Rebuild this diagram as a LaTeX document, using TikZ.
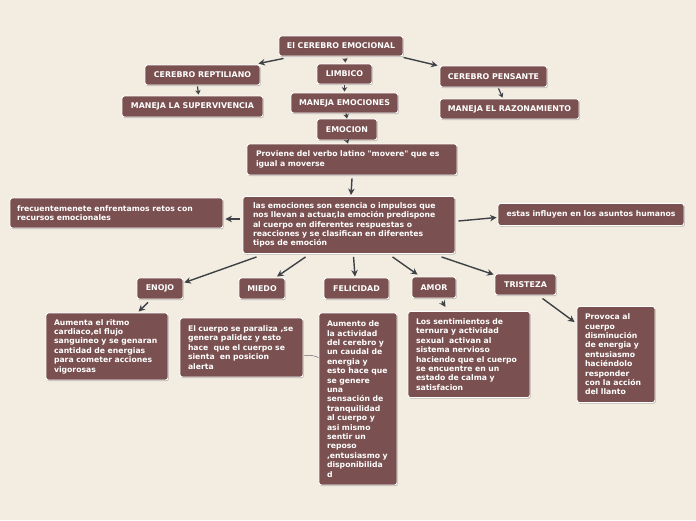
\documentclass[tikz,border=0pt]{standalone}
\usepackage{fontspec}
\setmainfont{DejaVu Sans}[Ligatures=TeXOff]
\usetikzlibrary{arrows.meta,shadows,calc}
\definecolor{bg}{RGB}{242,236,225}
\definecolor{boxc}{RGB}{122,80,80}
\definecolor{arrc}{RGB}{62,66,70}
\newcommand\lblfont{\fontsize{7.9}{9.4}\selectfont\bfseries}
\newcommand\txtfont{\fontsize{7.7}{9.4}\selectfont\bfseries}
\tikzset{
 box/.style={draw=white, line width=0.9pt, fill=boxc, rounded corners=2.5pt, text=white, inner sep=0pt,
   drop shadow={shadow xshift=0.8pt, shadow yshift=-1.2pt, fill=black, opacity=0.22}},
 lbl/.style 2 args={box, font=\lblfont, minimum width=#1, minimum height=#2, align=center},
 txt/.style n args={3}{box, font=\txtfont, minimum width=#1, minimum height=#2, text width=#3, align=left},
 conn/.style={draw=arrc, line width=1.4pt, -{Stealth[length=6.5pt,width=6.5pt]}},
 conns/.style={draw=arrc, line width=1.2pt, -{Stealth[length=4.5pt,width=5.5pt]}},
 thinln/.style={draw=arrc!80, line width=0.5pt},
}
\begin{document}
\begin{tikzpicture}[x=1pt,y=-1pt]
\fill[bg] (0,0) rectangle (696,520);
\useasboundingbox (0,0) rectangle (696,520);

\node[lbl={124pt}{20pt}] (emo) at (341,46) {El CEREBRO EMOCIONAL};
\node[lbl={115pt}{20pt}] (rep) at (202.5,75) {CEREBRO REPTILIANO};
\node[lbl={55pt}{20pt}] (lim) at (344.5,74) {LIMBICO};
\node[lbl={107pt}{21pt}] (pen) at (493.5,76.5) {CEREBRO PENSANTE};
\node[lbl={141pt}{21pt}] (sup) at (192.5,106.5) {MANEJA LA SUPERVIVENCIA};
\node[lbl={107pt}{20pt}] (man) at (344.5,103) {MANEJA EMOCIONES};
\node[lbl={139pt}{20pt}] (raz) at (509.5,109) {MANEJA EL RAZONAMIENTO};
\node[lbl={60pt}{21pt}] (emc) at (347,129.5) {EMOCION};
\node[txt={210pt}{31pt}{192pt}] (pro) at (352,159.5) {Proviene del verbo latino "movere" que es\\igual a moverse};
\node[txt={212pt}{57pt}{192pt}] (las) at (349,225) {las emociones son esencia o impulsos que\\nos llevan a actuar,la emoción predispone\\al cuerpo en diferentes respuestas o\\reacciones y se clasifican en diferentes\\tipos de emoción};
\node[txt={213pt}{30pt}{199pt}] (frc) at (116.5,213) {frecuentemenete enfrentamos retos con\\recursos emocionales};
\node[lbl={186pt}{22pt}, font=\txtfont] (est) at (591,214.5) {estas influyen en los asuntos humanos};

\node[lbl={46pt}{21pt}] (eno) at (160,288.5) {ENOJO};
\node[lbl={46pt}{21pt}] (mie) at (262,288.5) {MIEDO};
\node[lbl={65pt}{21pt}] (fel) at (356.5,288.5) {FELICIDAD};
\node[lbl={44pt}{21pt}] (amo) at (434,287.5) {AMOR};
\node[lbl={61pt}{21pt}] (tri) at (525.5,284.5) {TRISTEZA};

\node[txt={122pt}{67pt}{106pt}] (aum) at (107,346.5) {Aumenta el ritmo\\cardiaco,el flujo\\sanguineo y se genaran\\cantidad de energias\\para cometer acciones\\vigorosas};
\node[txt={123pt}{59pt}{107pt}] (par) at (241.5,347.5) {El cuerpo se paraliza ,se\\genera palidez y esto\\hace\ \ que el cuerpo se\\sienta\ \ en posicion\\alerta};
\node[txt={78pt}{172pt}{62pt}] (ftx) at (358,399) {Aumento de\\la actividad\\del cerebro y\\un caudal de\\energia y\\esto hace que\\se genere\\una\\sensación de\\tranquilidad\\al cuerpo y\\asi mismo\\sentir un\\reposo\\,entusiasmo y\\disponibilida\\d};
\node[txt={122pt}{86pt}{106pt}] (sen) at (469,354.5) {Los sentimientos de\\ternura y actividad\\sexual\ \ activan al\\sistema nervioso\\haciendo que el cuerpo\\se encuentre en un\\estado de calma y\\satisfacion};
\node[txt={78pt}{96pt}{62pt}] (prv) at (616,354.5) {Provoca al\\cuerpo\\disminución\\de energia y\\entusiasmo\\haciéndolo\\responder\\con la acción\\del llanto};

% connectors
\draw[conn] ($(emo.south west)+(5,2)$) -- ($(rep.north east)+(-2,-1)$);
\draw[conn] ($(emo.south east)+(0,1)$) -- ($(pen.north west)+(-2,0)$);
\draw[conns] ($(emo.south)+(4,2)$) -- ($(lim.north)+(1,-1)$);
\draw[conns] ($(rep.south)+(-5,1)$) -- ($(sup.north)+(6,-1)$);
\draw[conns] ($(lim.south)+(0,1)$) -- ($(man.north)+(0,-1)$);
\draw[conns] ($(pen.south)+(5,1)$) -- ($(raz.north)+(-7,-1)$);
\draw[conns] ($(man.south)+(1.5,0)$) -- (emc.north);
\draw[conns] (emc.south) -- ($(pro.north)+(-4,0)$);
\draw[conn] ($(pro.south)+(0,3)$) -- ($(las.north)+(2,-1)$);
\draw[conn] ($(las.west)+(-3,-6)$) -- ($(frc.east)+(2,6)$);
\draw[conn] ($(las.east)+(3,-4)$) -- ($(est.west)+(-1,3)$);
\draw[conn] ($(las.south west)+(14,3)$) -- ($(eno.north east)+(1,5)$);
\draw[conn] ($(las.south west)+(63,3)$) -- ($(mie.north)+(15,-1)$);
\draw[conn] ($(las.south west)+(111,3)$) -- ($(fel.north)+(-1.5,-1)$);
\draw[conn] ($(las.south west)+(150,3)$) -- ($(amo.north west)+(6,-2)$);
\draw[conn] ($(las.south west)+(199,3)$) -- ($(tri.north west)+(-1,1)$);
\draw[conn] ($(eno.south)+(-12,3)$) -- ($(aum.north west)+(93,-1)$);
\draw[conn] ($(amo.south)+(8,3)$) -- ($(sen.north)+(-23.5,-4)$);
\draw[conn] ($(tri.south)+(17,3)$) -- ($(prv.north west)+(-2,16)$);
\draw[thinln] ($(par.east)+(1,8)$) to[bend left=15] ($(ftx.north west)+(0,45)$);
\end{tikzpicture}
\end{document}
